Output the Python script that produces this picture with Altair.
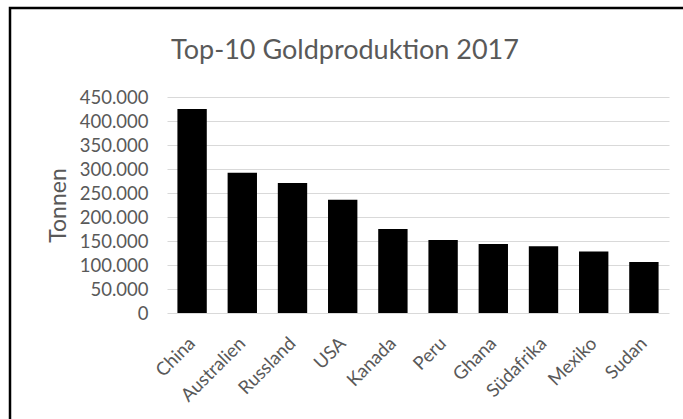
import altair as alt
import pandas as pd

laender = ["China", "Australien", "Russland", "USA", "Kanada", "Peru",
           "Ghana", "Südafrika", "Mexiko", "Sudan"]
tonnen = [425000, 292000, 271000, 236000, 175000, 152000,
          144000, 139000, 128000, 106000]
y_ticks = [0, 50000, 100000, 150000, 200000, 250000, 300000, 350000, 400000, 450000]
titel = "Top-10 Goldproduktion 2017"
y_titel = "Tonnen"

df = pd.DataFrame({"Land": laender, "Tonnen": tonnen})
GRAY = "#595959"
FONT = "Lato"

bars = alt.Chart(df).mark_bar(color="black").encode(
    x=alt.X(
        "Land:N", sort=laender,
        scale=alt.Scale(paddingInner=0.415, paddingOuter=0.2075),
        axis=alt.Axis(title=None, labelAngle=-45, labelAlign="right",
                      labelBaseline="middle", labelPadding=27,
                      labelFont=FONT, labelFontSize=18.5, labelColor=GRAY,
                      ticks=False, domain=False, grid=False),
    ),
    y=alt.Y(
        "Tonnen:Q",
        scale=alt.Scale(domain=[0, 450000], nice=False),
        axis=alt.Axis(values=y_ticks,
                      labelExpr="replace(format(datum.value, ','), ',', '.')",
                      labelFont=FONT, labelFontSize=18.5, labelColor=GRAY,
                      labelPadding=19, ticks=False, domain=False,
                      grid=True, gridColor="#d9d9d9", gridWidth=1,
                      title=y_titel, titleFont=FONT, titleFontSize=23,
                      titleFontWeight="normal", titleColor=GRAY,
                      titleAngle=-90, titleX=-102, titleY=108,
                      titleAlign="center", titleBaseline="alphabetic"),
    ),
)

frame = alt.Chart(pd.DataFrame({"f": [0]})).mark_rect(
    filled=False, stroke="black", strokeWidth=2.5
).encode(
    x=alt.value(-157), x2=alt.value(560),
    y=alt.value(-89), y2=alt.value(380),
)

chart = alt.layer(bars, frame).properties(
    width=502, height=216,
    title=alt.TitleParams(titel, font=FONT, fontSize=27, color=GRAY,
                          fontWeight="normal", anchor="middle", dx=-73,
                          frame="group", offset=-79, baseline="alphabetic"),
    autosize=alt.AutoSizeParams(type="none"),
    padding={"left": 167, "top": 97, "right": 14, "bottom": 106},
    background="white",
).configure_view(strokeWidth=0)

chart.save("out.html", embed_options={"renderer": "svg", "actions": False})
